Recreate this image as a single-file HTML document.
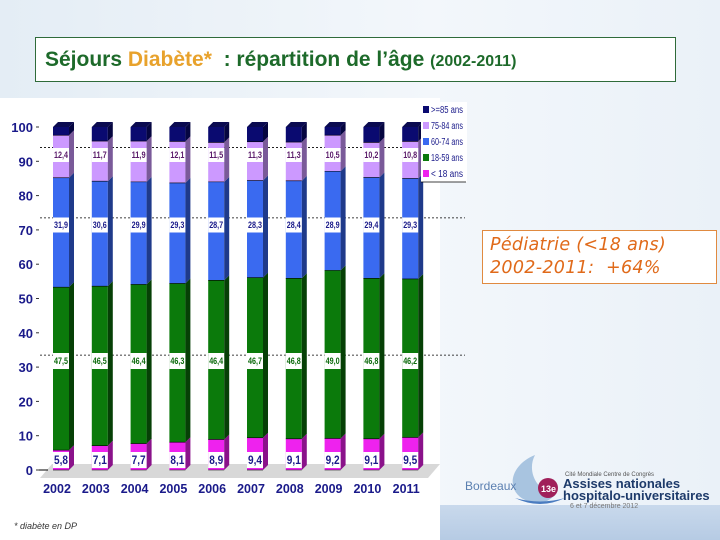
<!DOCTYPE html>
<html><head><meta charset="utf-8">
<style>
body{margin:0;width:720px;height:540px;overflow:hidden;background:linear-gradient(90deg,#e4edf5 0%,#f3f7fb 60%,#eaf1f8 100%);font-family:"Liberation Sans",sans-serif;position:relative}
#title{position:absolute;left:35px;top:37px;width:641px;height:45px;border:1px solid #2f6b3a;background:#fff;box-sizing:border-box}
#title span.t{position:absolute;left:9px;top:10px;font-size:21px;font-weight:bold;color:#1d6a2a;white-space:nowrap}
#ped{position:absolute;left:482px;top:230px;width:235px;height:54px;border:1px solid #e08a40;background:#fff;box-sizing:border-box;color:#e06a1a;font-style:italic;font-family:"DejaVu Sans",sans-serif;font-size:17.5px;line-height:23px;padding:3px 0 0 7px;letter-spacing:0.3px;white-space:nowrap}
#chart{position:absolute;left:0;top:98px}
#foot{position:absolute;left:0;top:500px;width:440px;height:40px;background:#fff}
#foot span{position:absolute;left:14px;top:21px;font-size:9px;color:#333;font-style:italic}
#band{position:absolute;left:440px;top:505px;width:280px;height:35px;background:linear-gradient(180deg,#c9d9ec,#b6cbe4)}
#logo{position:absolute;left:465px;top:450px}
</style></head><body>
<div id="title"><span class="t">Séjours <span style="color:#e8a22c">Diabète*</span> &nbsp;: répartition de l’âge <span style="font-size:16px">(2002-2011)</span></span></div>
<div id="ped">Pédiatrie (&lt;18 ans)<br>2002-2011: &nbsp;+64%</div>
<div id="foot"><span>* diabète en DP</span></div>
<div id="band"></div>
<svg id="logo" width="250" height="60">
<path d="M60 50 C40 40 45 15 70 5 C62 20 70 40 90 45 C80 55 70 55 60 50Z" fill="#a8c4e0"/>
<path d="M50 48 Q75 60 100 48 Q75 55 50 48Z" fill="#4a7cc0"/>
<text x="0" y="40" font-size="12" fill="#5a7fb0" font-family="Liberation Sans">Bordeaux</text>
<circle cx="83" cy="38" r="10" fill="#a0205a"/><text x="76" y="42" font-size="9" fill="#fff" font-weight="bold">13e</text>
<text x="100" y="26" font-size="6" fill="#555">Cité Mondiale Centre de Congrès</text>
<text x="98" y="38" font-size="13" font-weight="bold" fill="#1d3a6a">Assises nationales</text>
<text x="98" y="50" font-size="13" font-weight="bold" fill="#1d3a6a">hospitalo-universitaires</text>
<text x="105" y="58" font-size="7" fill="#777">6 et 7 décembre 2012</text>
</svg>
<svg id="chart" width="470" height="402"></svg>
<script>
const years=['2002','2003','2004','2005','2006','2007','2008','2009','2010','2011'];
const under18=[5.8,7.1,7.7,8.1,8.9,9.4,9.1,9.2,9.1,9.5];
const age18_59=[47.5,46.5,46.4,46.3,46.4,46.7,46.8,49.0,46.8,46.2];
const age60_74=[31.9,30.6,29.9,29.3,28.7,28.3,28.4,28.9,29.4,29.3];
const age75_84=[12.4,11.7,11.9,12.1,11.5,11.3,11.3,10.5,10.2,10.8];
const yTicks=[0,10,20,30,40,50,60,70,80,90,100];
const fmt=v=>v.toFixed(1).replace('.',',');
const NS='http://www.w3.org/2000/svg';
const svg=document.getElementById('chart');
const OY=98;
function y(v){return 470-OY-v*3.43;}
function x(i){return 53+i*38.8;}
function el(t,a,p){const e=document.createElementNS(NS,t);for(const k in a)e.setAttribute(k,a[k]);(p||svg).appendChild(e);return e;}
el('rect',{x:0,y:0,width:440,height:402,fill:'#fff'});
const fl=el('polygon',{points:`40,${y(0)+8} 428,${y(0)+8} 440,${y(0)-6} 52,${y(0)-6}`,fill:'#d8d8d8'});

el('line',{x1:36,y1:y(0),x2:48,y2:y(0),stroke:'#000'});
yTicks.forEach(t=>{
 const tx=el('text',{x:33,y:y(t)+5,'text-anchor':'end','font-size':13,'font-weight':'bold',fill:'#1a1a8a'});
 tx.textContent=t;
 
 el('line',{x1:36,y1:y(t),x2:39,y2:y(t),stroke:'#333'});
});
[94,73.5,33.5].forEach(v=>{el('line',{x1:40,y1:y(v),x2:465,y2:y(v),stroke:'#000','stroke-dasharray':'2,2','stroke-width':0.8});});
const segs=[[under18,'#ee22ee','#8a128a'],[age18_59,'#0b7a0b','#064006'],[age60_74,'#3a6af0','#1f3a8a'],[age75_84,'#cc99ff','#7a5a99'],[null,'#0a0a70','#050540']];
const W=16,D=5;
years.forEach((yr,i)=>{
 const g=el('g',{});
 
 let acc=0;
 segs.forEach((s,k)=>{
  const v=s[0]?s[0][i]:100-acc;
  const y0=y(acc),y1=y(acc+v);
  el('rect',{x:x(i),y:y1,width:W,height:y0-y1,fill:s[1]},g);
  el('polygon',{points:`${x(i)+W},${y1} ${x(i)+W+D},${y1-D} ${x(i)+W+D},${y0-D} ${x(i)+W},${y0}`,fill:s[2]},g);
  el('line',{x1:x(i),y1:y0,x2:x(i)+W,y2:y0,stroke:'#000','stroke-width':0.6},g);
  acc+=v;
  if(k==4){el('polygon',{points:`${x(i)},${y1} ${x(i)+D},${y1-D} ${x(i)+W+D},${y1-D} ${x(i)+W},${y1}`,fill:'#0a0a50'},g);}
 });
 const lbl=[[under18[i],460,'#1a1a8a',16,12],[age18_59[i],361,'#0b6a0b',16,9],[age60_74[i],225,'#1a1a8a',15,9],[age75_84[i],155,'#5a1a6a',14,9]];
 lbl.forEach(l=>{
  el('rect',{x:x(i),y:l[1]-OY-l[3]/2,width:W,height:l[3],fill:'#fff'},g);
  const t=el('text',{x:x(i)+W/2,y:l[1]-OY+l[4]*0.35,'text-anchor':'middle','font-size':l[4],'font-weight':'bold',fill:l[2],textLength:W-2,lengthAdjust:'spacingAndGlyphs'},g);
  t.textContent=fmt(l[0]);
  
 });
 const xl=el('text',{x:x(i)+4,y:493-OY,'text-anchor':'middle','font-size':12.5,'font-weight':'bold',fill:'#1a1a8a'});
 xl.textContent=yr;
 
});
const lg=el('g',{});

el('rect',{x:421,y:4,width:46,height:80,fill:'#fff'},lg);
const leg=[['>=85 ans','#0a0a70'],['75-84 ans','#cc99ff'],['60-74 ans','#3a6af0'],['18-59 ans','#0b7a0b'],['< 18 ans','#ee22ee']];
leg.forEach((l,k)=>{
 const ey=15+k*16;
 el('rect',{x:423,y:ey-7,width:6,height:7,fill:l[1]},lg);
 const t=el('text',{x:431,y:ey,'font-size':10,fill:'#1a1a8a',textLength:32,lengthAdjust:'spacingAndGlyphs'},lg);
 t.textContent=l[0];
 
});
el('line',{x1:421,y1:84,x2:466,y2:84,stroke:'#000','stroke-width':0.8},lg);
</script>
</body></html>
